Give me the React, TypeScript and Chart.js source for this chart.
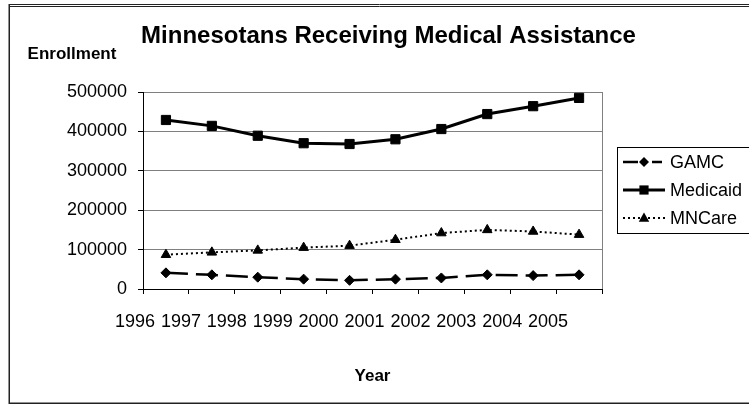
import React, { useEffect, useRef } from 'react';
import { Chart, registerables } from 'chart.js';

Chart.register(...registerables);

const years = ['1996', '1997', '1998', '1999', '2000', '2001', '2002', '2003', '2004', '2005'];
const gamc = [41000, 36000, 30000, 25000, 22000, 25000, 28000, 36000, 34000, 36000];
const medicaid = [429000, 414000, 389000, 370000, 368000, 380000, 406000, 444000, 464000, 485000];
const mncare = [87000, 93000, 98000, 105000, 110000, 125000, 142000, 150000, 146000, 138000];
const yMax = 500000;
const yStep = 100000;

const chartTitle = 'Minnesotans Receiving Medical Assistance';
const yTitle = 'Enrollment';
const xTitle = 'Year';

const FONT = '"Liberation Sans", Arial, Helvetica, sans-serif';

function drawMarker(ctx: CanvasRenderingContext2D, style: string, x: number, y: number, r: number) {
  ctx.save();
  ctx.setLineDash([]);
  ctx.fillStyle = '#000';
  ctx.beginPath();
  if (style === 'rect') {
    const s = r * Math.SQRT1_2;
    ctx.rect(x - s, y - s, 2 * s, 2 * s);
  } else if (style === 'rectRot') {
    ctx.moveTo(x, y - r);
    ctx.lineTo(x + r, y);
    ctx.lineTo(x, y + r);
    ctx.lineTo(x - r, y);
    ctx.closePath();
  } else {
    ctx.moveTo(x, y - r);
    ctx.lineTo(x + r * 0.95, y + r * 0.7);
    ctx.lineTo(x - r * 0.95, y + r * 0.7);
    ctx.closePath();
  }
  ctx.fill();
  ctx.restore();
}

const decorPlugin = {
  id: 'decor',
  afterDraw(chart: any) {
    const ctx: CanvasRenderingContext2D = chart.ctx;
    const a = chart.chartArea;
    ctx.save();
    // outer frame
    ctx.strokeStyle = '#222';
    ctx.lineWidth = 1;
    ctx.beginPath();
    ctx.moveTo(9, 4.5);
    ctx.lineTo(760, 4.5);
    ctx.moveTo(9, 6.5);
    ctx.lineTo(760, 6.5);
    ctx.stroke();
    ctx.lineWidth = 1.5;
    ctx.beginPath();
    ctx.moveTo(9.25, 4);
    ctx.lineTo(9.25, 403.25);
    ctx.lineTo(760, 403.25);
    ctx.stroke();

    // plot right border
    ctx.strokeStyle = '#808080';
    ctx.lineWidth = 1;
    ctx.beginPath();
    ctx.moveTo(Math.round(a.right) + 0.5, a.top);
    ctx.lineTo(Math.round(a.right) + 0.5, a.bottom);
    ctx.stroke();

    // titles
    ctx.fillStyle = '#000';
    ctx.textBaseline = 'middle';
    ctx.textAlign = 'center';
    ctx.font = `bold 24px ${FONT}`;
    ctx.fillText(chartTitle, (a.left + a.right) / 2 + 16, 36);
    ctx.font = `bold 17px ${FONT}`;
    ctx.fillText(yTitle, 72, 54);
    ctx.fillText(xTitle, (a.left + a.right) / 2, 376);

    // legend
    const lx = 617;
    const ly = 147;
    ctx.strokeStyle = '#000';
    ctx.lineWidth = 1;
    ctx.strokeRect(lx + 0.5, ly + 0.5, 200, 86);
    ctx.font = `18px ${FONT}`;
    ctx.textAlign = 'left';
    chart.data.datasets.forEach((ds: any, i: number) => {
      const y = 162 + i * 28;
      ctx.save();
      ctx.strokeStyle = '#000';
      ctx.lineWidth = ds.borderWidth;
      ctx.setLineDash(ds.legendDash || []);
      ctx.beginPath();
      ctx.moveTo(lx + 6, y);
      ctx.lineTo(lx + 48, y);
      ctx.stroke();
      ctx.restore();
      drawMarker(ctx, ds.pointStyle, lx + 27, y, ds.pointRadius);
      ctx.fillStyle = '#000';
      ctx.fillText(ds.label, lx + 53, y + 1);
    });
    ctx.restore();
  },
};

export default function App() {
  const ref = useRef<HTMLCanvasElement | null>(null);

  useEffect(() => {
    if (!ref.current) return;
    const toPts = (arr: number[]) => arr.map((v, i) => ({ x: i + 0.5, y: v }));
    const chart = new Chart(ref.current, {
      type: 'line',
      data: {
        datasets: [
          {
            label: 'GAMC',
            data: toPts(gamc),
            borderColor: '#000',
            backgroundColor: '#000',
            borderWidth: 2.5,
            borderDash: [22, 8],
            legendDash: [15, 14, 10, 10],
            pointStyle: 'rectRot',
            pointRadius: 5,
            pointBackgroundColor: '#000',
            pointBorderColor: '#000',
            pointBorderWidth: 1,
            tension: 0,
          },
          {
            label: 'Medicaid',
            data: toPts(medicaid),
            borderColor: '#000',
            backgroundColor: '#000',
            borderWidth: 3,
            pointStyle: 'rect',
            pointRadius: 6.5,
            pointBackgroundColor: '#000',
            pointBorderColor: '#000',
            pointBorderWidth: 1,
            tension: 0,
          },
          {
            label: 'MNCare',
            data: toPts(mncare),
            borderColor: '#000',
            backgroundColor: '#000',
            borderWidth: 2,
            borderDash: [2, 3],
            legendDash: [2, 3],
            pointStyle: 'triangle',
            pointRadius: 5.5,
            pointBackgroundColor: '#000',
            pointBorderColor: '#000',
            pointBorderWidth: 1,
            tension: 0,
          },
        ] as any,
      },
      options: {
        responsive: false,
        animation: false,
        devicePixelRatio: 1,
        layout: { padding: { top: 92, right: 147, bottom: 0, left: 0 } },
        plugins: {
          legend: { display: false },
          title: { display: false },
          tooltip: { enabled: false },
        },
        scales: {
          x: {
            type: 'linear',
            min: 0,
            max: years.length,
            afterFit: (scale: any) => {
              scale.height = 117;
            },
            grid: {
              drawOnChartArea: false,
              drawTicks: true,
              tickLength: 5,
              tickColor: '#000',
            },
            border: { color: '#000', width: 1 },
            ticks: {
              stepSize: 1,
              autoSkip: false,
              maxRotation: 0,
              padding: 17,
              labelOffset: -8,
              color: '#000',
              font: { family: FONT, size: 18 },
              callback: (v: any) => years[v as number] ?? '',
            },
          },
          y: {
            min: 0,
            max: yMax,
            afterFit: (scale: any) => {
              scale.width = 143;
            },
            grid: {
              color: '#808080',
              lineWidth: 1,
              drawTicks: true,
              tickLength: 5,
              tickColor: '#000',
            },
            border: { color: '#000', width: 1 },
            ticks: {
              stepSize: yStep,
              padding: 11,
              color: '#000',
              font: { family: FONT, size: 18 },
              callback: (v: any) => String(v),
            },
          },
        },
      },
      plugins: [decorPlugin],
    });
    return () => chart.destroy();
  }, []);

  return (
    <canvas
      ref={ref}
      width={749}
      height={406}
      style={{ position: 'fixed', left: 0, top: 0, width: 749, height: 406, display: 'block', background: '#fff' }}
    />
  );
}
